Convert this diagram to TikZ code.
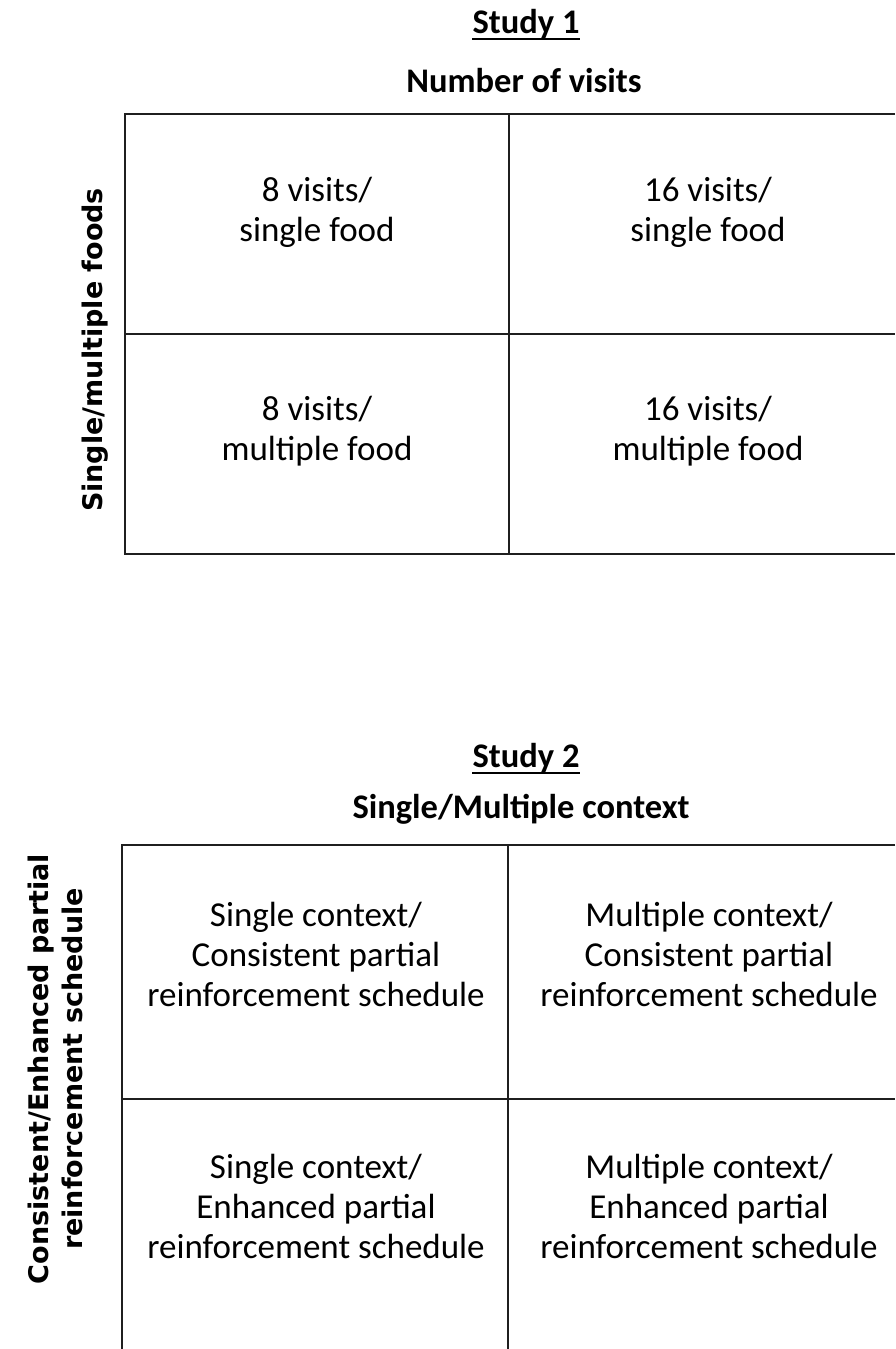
\documentclass[tikz,border=0pt]{standalone}
\usepackage{fontspec}
\setmainfont{Carlito}
\newfontfamily\sidefont{DejaVu Sans}
\begin{document}
\begin{tikzpicture}[x=1pt,y=-1pt,
  grid/.style={line width=2pt,draw=black!88},
  title/.style={font=\fontsize{34.5}{40}\selectfont\bfseries,inner sep=0pt,anchor=base},
  celltext/.style={font=\fontsize{35}{40}\selectfont,align=center,inner sep=0pt},
  sidelabel/.style={font=\sidefont\fontsize{27}{34}\selectfont\bfseries,align=center,rotate=90,inner sep=0pt}]
\useasboundingbox (0,0) rectangle (895,1349);
% ---------- Study 1 ----------
\node[title] (s1) at (526,33) {Study 1};
\draw[line width=1.8pt] ([yshift=-6pt]s1.base west) -- ([yshift=-6pt]s1.base east);
\node[title] (t1) at (524,92) {Number of visits};
\coordinate (a1) at (125,114);
\coordinate (a2) at (509,114);
\coordinate (a3) at (895,114);
\coordinate (b1) at (125,334);
\coordinate (b2) at (509,334);
\coordinate (b3) at (895,334);
\coordinate (c1) at (125,554);
\coordinate (c2) at (509,554);
\coordinate (c3) at (895,554);
\draw[grid] (a3) -- (a1) -- (c1) -- (c3);
\draw[grid] (b1) -- (b3);
\draw[grid] (a2) -- (c2);
\node[celltext] (p11) at (317,212) {8 visits/\\single food};
\node[celltext] (p12) at (708,212) {16 visits/\\single food};
\node[celltext] (p21) at (317,431) {8 visits/\\multiple food};
\node[celltext] (p22) at (708,431) {16 visits/\\multiple food};
\node[sidelabel] (l1) at (95,350) {Single/multiple foods};
% ---------- Study 2 ----------
\node[title] (s2) at (526,767) {Study 2};
\draw[line width=1.8pt] ([yshift=-6pt]s2.base west) -- ([yshift=-6pt]s2.base east);
\node[title] (t2) at (521,818) {Single/Multiple context};
\coordinate (d1) at (122,845);
\coordinate (d2) at (508,845);
\coordinate (d3) at (895,845);
\coordinate (e1) at (122,1099);
\coordinate (e2) at (508,1099);
\coordinate (e3) at (895,1099);
\coordinate (f1) at (122,1349);
\coordinate (f2) at (508,1349);
\draw[grid] (d3) -- (d1) -- (f1);
\draw[grid] (e1) -- (e3);
\draw[grid] (d2) -- (f2);
\node[celltext] (q11) at (316,954) {Single context/\\Consistent partial\\reinforcement schedule};
\node[celltext] (q12) at (709,954) {Multiple context/\\Consistent partial\\reinforcement schedule};
\node[celltext] (q21) at (316,1206) {Single context/\\Enhanced partial\\reinforcement schedule};
\node[celltext] (q22) at (709,1206) {Multiple context/\\Enhanced partial\\reinforcement schedule};
\node[sidelabel] (l2) at (55,1069) {Consistent/Enhanced partial\\reinforcement schedule};
\end{tikzpicture}
\end{document}
